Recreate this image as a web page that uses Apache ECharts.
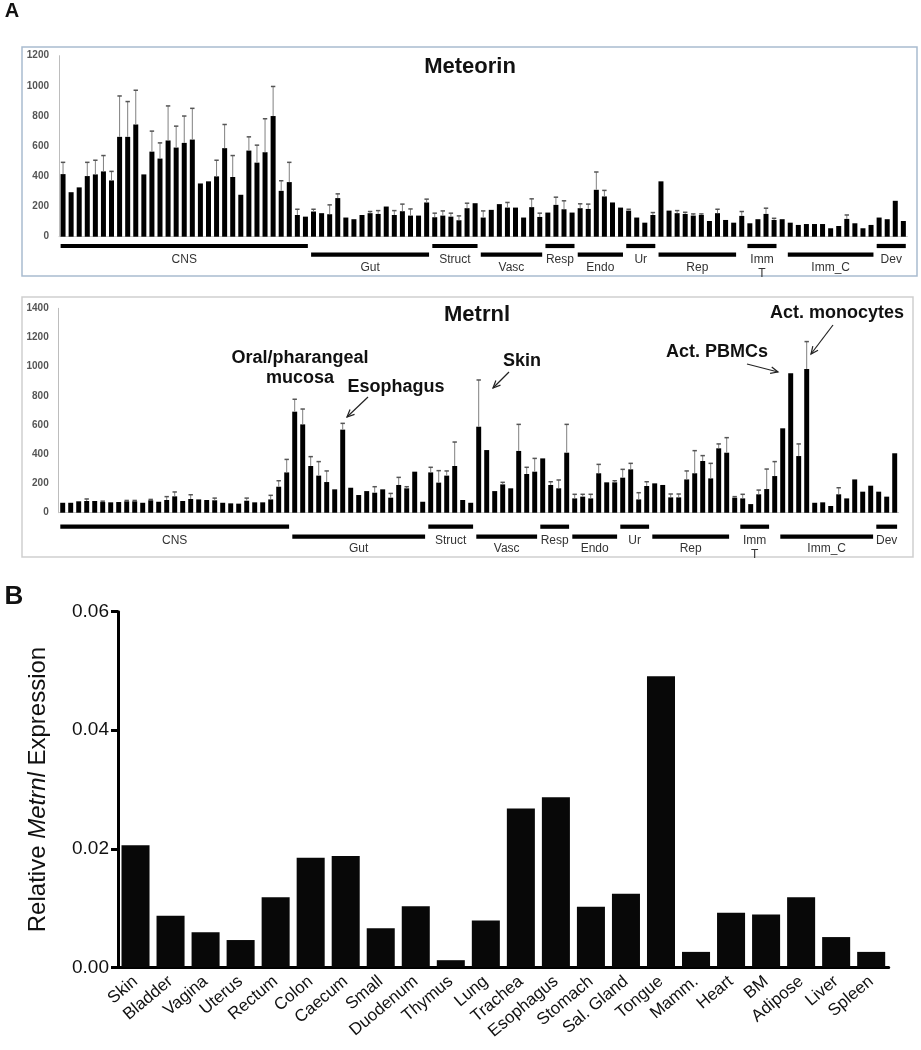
<!DOCTYPE html>
<html><head><meta charset="utf-8">
<script src="https://cdn.jsdelivr.net/npm/echarts@6/dist/echarts.min.js"></script>
<style>html,body{margin:0;padding:0;background:#fff}#c{width:921px;height:1050px}</style>
</head><body><div id="c"></div>
<script>
// ---------- Panel A: Meteorin ----------
const meteorinValues = [415,295,327,402,413,433,373,662,662,744,
 413,564,518,638,591,622,644,353,367,400,
 587,396,278,571,491,560,800,304,362,144,
 133,167,156,149,256,127,116,144,156,151,
 200,144,169,140,140,227,129,140,133,109,
 189,222,127,178,216,193,193,127,196,131,
 160,211,182,160,189,184,311,267,227,193,
 173,127,93,144,367,173,156,151,140,144,
 104,156,111,93,138,89,116,151,111,116,
 93,78,84,84,84,56,71,118,89,56,
 78,127,116,238,104];
const meteorinErrors = [78,0,0,91,94,105,60,271,234,227,
 0,136,104,229,142,178,207,0,0,107,
 157,142,0,91,116,222,196,67,131,38,
 0,15,0,62,28,0,0,0,11,22,
 0,29,47,44,0,22,27,31,23,29,
 33,0,44,0,0,34,0,0,55,25,
 0,51,56,0,29,32,118,40,0,0,
 9,0,0,16,0,0,17,11,11,7,
 0,26,0,0,29,0,0,38,11,0,
 0,0,0,0,0,0,0,26,0,0,
 0,0,0,0,0];
// ---------- Panel A: Metrnl ----------
const metrnlValues = [68,68,78,80,80,73,71,73,78,78,68,85,75,87,112,80,94,91,87,85,68,64,62,82,71,71,91,178,276,
 692,605,320,254,210,160,569,171,121,148,137,160,103,190,167,281,75,
 276,206,254,320,87,68,589,
 429,148,194,167,423,265,281,372,190,167,411,
 98,110,98,270,208,208,240,297,91,183,
 201,190,105,105,228,270,354,235,441,411,
 103,98,59,126,162,251,578,955,388,984,
 68,71,46,126,98,228,144,185,144,110,407];
const metrnlErrors = [0,0,0,14,0,6,0,0,6,6,0,6,0,23,30,0,29,0,0,15,0,0,0,18,0,0,28,41,89,
 85,105,64,96,76,0,43,0,0,0,41,0,29,52,11,0,0,
 35,82,32,164,0,0,320,
 0,0,14,0,182,46,91,0,22,57,194,
 28,16,28,61,0,11,57,41,46,29,
 0,0,23,23,58,155,37,103,30,103,
 7,28,0,29,137,99,0,0,83,188,
 0,0,0,45,0,0,0,0,0,0,0];
// tissue groups (alternating upper / lower rows)
const groupNames = ['CNS','Gut','Struct','Vasc','Resp','Endo','Ur','Rep','Imm\nT','Imm_C','Dev'];
const meteorinGroupStart = [0,31,46,52,60,64,70,74,85,90,101];
const meteorinGroupEnd   = [30,45,51,59,63,69,73,83,88,100,104];
const metrnlGroupStart   = [0,29,46,52,60,64,70,74,85,90,102];
const metrnlGroupEnd     = [28,45,51,59,63,69,73,83,88,101,104];
// ---------- Panel B ----------
const tissueCategories = ['Skin','Bladder','Vagina','Uterus','Rectum','Colon','Caecum','Small','Duodenum','Thymus','Lung','Trachea','Esophagus','Stomach','Sal. Gland','Tongue','Mamm.','Heart','BM','Adipose','Liver','Spleen'];
const tissueValues = [0.0206,0.0087,0.0059,0.0046,0.0118,0.0185,0.0188,0.0066,0.0103,0.0012,0.0079,0.0268,0.0287,0.0102,0.0124,0.0491,0.0026,0.0092,0.0089,0.0118,0.0051,0.0026];

const FONT = 'Liberation Sans, Arial, sans-serif';
const idxCats = meteorinValues.map((_, i) => String(i + 1));

function errSeries(values, errors, ax) {
  const data = values.map((v, i) => [i, v, errors[i]]).filter(d => d[2] > 0);
  return {
    type: 'custom', xAxisIndex: ax, yAxisIndex: ax, clip: false, silent: true, z: 3,
    encode: { x: 0, y: 1 },
    renderItem(params, api) {
      const i = api.value(0), v = api.value(1), e = api.value(2);
      const p0 = api.coord([i, v]), p1 = api.coord([i, v + e]);
      const cap = 2.2;
      return { type: 'group', children: [
        { type: 'line', shape: { x1: p0[0], y1: p0[1], x2: p1[0], y2: p1[1] }, style: { stroke: '#808080', lineWidth: 1 } },
        { type: 'line', shape: { x1: p1[0] - cap, y1: p1[1], x2: p1[0] + cap, y2: p1[1] }, style: { stroke: '#555', lineWidth: 1.5 } }
      ] };
    },
    data
  };
}
function groupSeries(starts, ends, ax, o) {
  const data = starts.map((s, k) => [s, ends[k], k]);
  return {
    type: 'custom', xAxisIndex: ax, yAxisIndex: ax, clip: false, silent: true, z: 3,
    encode: { x: 0, y: 2 },
    renderItem(params, api) {
      const s = api.value(0), e = api.value(1), k = api.value(2);
      const bw = api.size([1, 0])[0];
      const ps = api.coord([s, 0]), pe = api.coord([e, 0]);
      const base = ps[1];
      const x1 = ps[0] - bw * 0.3, x2 = pe[0] + bw * 0.3;
      const upper = k % 2 === 0;
      const ly = base + (upper ? o.upLine : o.lowLine);
      const ty = base + (upper ? o.upText : o.lowText);
      return { type: 'group', children: [
        { type: 'rect', shape: { x: x1, y: ly - 2.1, width: x2 - x1, height: 4.2 }, style: { fill: '#000' } },
        { type: 'text', style: { text: groupNames[k], x: (x1 + x2) / 2, y: ty - 7, align: 'center', verticalAlign: 'top', lineHeight: 14, font: '12px ' + FONT, fill: '#333' } }
      ] };
    },
    data
  };
}
function arrow(x1, y1, x2, y2) {
  const ang = Math.atan2(y2 - y1, x2 - x1), L = 8, a = 0.42;
  return [
    { type: 'line', shape: { x1, y1, x2, y2 }, style: { stroke: '#222', lineWidth: 1.2 } },
    { type: 'polyline', shape: { points: [[x2 - L * Math.cos(ang - a), y2 - L * Math.sin(ang - a)], [x2, y2], [x2 - L * Math.cos(ang + a), y2 - L * Math.sin(ang + a)]] }, style: { stroke: '#222', lineWidth: 1.2, fill: null } }
  ];
}
function txt(x, y, text, font, extra) {
  return Object.assign({ type: 'text', x, y, style: { text, font, fill: '#111', align: 'center', verticalAlign: 'middle' } }, extra || {});
}

const smallAxisLabel = { fontSize: 10, fontWeight: 'bold', color: '#555', margin: 10, fontFamily: FONT, formatter: v => String(v) };

const option = {
  animation: false,
  backgroundColor: '#fff',
  textStyle: { fontFamily: FONT },
  grid: [
    { left: 59, top: 55.7, width: 848.4, height: 181 },
    { left: 58.7, top: 308.3, width: 840, height: 204.4 },
    { left: 118, top: 611.7, width: 770.7, height: 355.6 }
  ],
  xAxis: [
    { gridIndex: 0, type: 'category', data: idxCats, axisLabel: { show: false }, axisTick: { show: false }, axisLine: { lineStyle: { color: '#c8c8c8' } } },
    { gridIndex: 1, type: 'category', data: idxCats, axisLabel: { show: false }, axisTick: { show: false }, axisLine: { lineStyle: { color: '#c8c8c8' } } },
    { gridIndex: 2, type: 'category', data: tissueCategories,
      axisLine: { lineStyle: { color: '#000', width: 3 } },
      axisTick: { alignWithLabel: true, length: 7, lineStyle: { width: 3, color: '#000' } },
      axisLabel: { rotate: 40, fontSize: 17, color: '#111', margin: 12, interval: 0, fontFamily: FONT } }
  ],
  yAxis: [
    { gridIndex: 0, type: 'value', min: 0, max: 1200, interval: 200, splitLine: { show: false }, axisLine: { show: true, lineStyle: { color: '#bdbdbd' } }, axisTick: { show: false }, axisLabel: smallAxisLabel },
    { gridIndex: 1, type: 'value', min: 0, max: 1400, interval: 200, splitLine: { show: false }, axisLine: { show: true, lineStyle: { color: '#bdbdbd' } }, axisTick: { show: false }, axisLabel: smallAxisLabel },
    { gridIndex: 2, type: 'value', min: 0, max: 0.06, interval: 0.02, splitLine: { show: false },
      axisLine: { show: true, lineStyle: { color: '#000', width: 3 } },
      axisTick: { show: true, length: 7, lineStyle: { width: 3, color: '#000' } },
      axisLabel: { formatter: v => v.toFixed(2), fontSize: 19, color: '#111', margin: 9, fontFamily: FONT },
      name: '{n|Relative }{i|Metrnl}{n| Expression}', nameLocation: 'middle', nameRotate: 90, nameGap: 68,
      nameTextStyle: { rich: { n: { fontSize: 24, color: '#111', fontFamily: FONT }, i: { fontSize: 24, fontStyle: 'italic', color: '#111', fontFamily: FONT } } } }
  ],
  series: [
    { type: 'bar', xAxisIndex: 0, yAxisIndex: 0, data: meteorinValues, barWidth: '62%', itemStyle: { color: '#000' }, silent: true },
    errSeries(meteorinValues, meteorinErrors, 0),
    groupSeries(meteorinGroupStart, meteorinGroupEnd, 0, { upLine: 9.3, lowLine: 18, upText: 23, lowText: 31 }),
    { type: 'bar', xAxisIndex: 1, yAxisIndex: 1, data: metrnlValues, barWidth: '62%', itemStyle: { color: '#000' }, silent: true },
    errSeries(metrnlValues, metrnlErrors, 1),
    groupSeries(metrnlGroupStart, metrnlGroupEnd, 1, { upLine: 14, lowLine: 24, upText: 28, lowText: 36 }),
    { type: 'bar', xAxisIndex: 2, yAxisIndex: 2, data: tissueValues, barWidth: '80%', itemStyle: { color: '#080808' }, silent: true }
  ],
  graphic: { elements: [
    { type: 'rect', z: -10, shape: { x: 22, y: 47, width: 895, height: 229 }, style: { fill: null, stroke: '#a9bcd0', lineWidth: 1.5 } },
    { type: 'rect', z: -10, shape: { x: 22, y: 297, width: 891, height: 260 }, style: { fill: null, stroke: '#cfcfcf', lineWidth: 1.5 } },
    txt(12, 11, 'A', 'bold 20px ' + FONT),
    txt(14, 597, 'B', 'bold 26px ' + FONT),
    txt(470, 67, 'Meteorin', 'bold 22px ' + FONT),
    txt(477, 315, 'Metrnl', 'bold 22px ' + FONT),
    { type: 'text', x: 300, y: 368, style: { text: 'Oral/pharangeal\nmucosa', font: 'bold 18px ' + FONT, fill: '#111', align: 'center', verticalAlign: 'middle', lineHeight: 20 } },
    txt(396, 387, 'Esophagus', 'bold 18px ' + FONT),
    txt(522, 361, 'Skin', 'bold 18px ' + FONT),
    txt(717, 352, 'Act. PBMCs', 'bold 18px ' + FONT),
    txt(837, 313, 'Act. monocytes', 'bold 18px ' + FONT),
    ...arrow(368, 397, 347, 417),
    ...arrow(509, 372, 493, 388),
    ...arrow(747, 364, 778, 372),
    ...arrow(833, 325, 811, 354)
  ] }
};
const chart = echarts.init(document.getElementById('c'), null, { renderer: 'canvas' });
chart.setOption(option);
</script></body></html>
